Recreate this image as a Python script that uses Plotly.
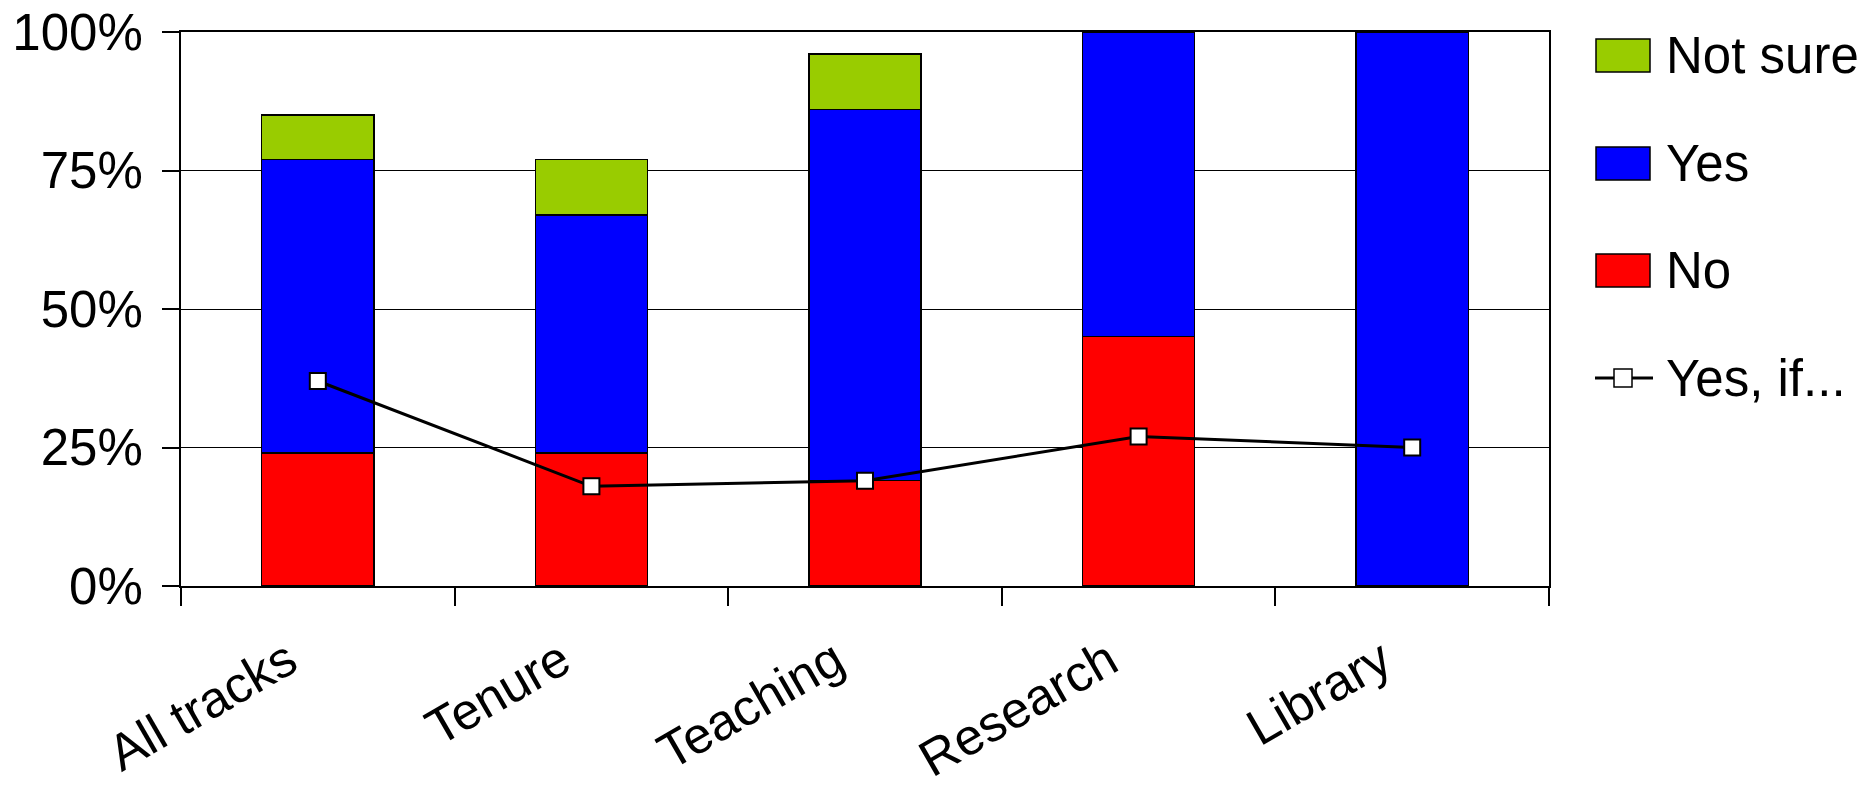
import plotly.graph_objects as go

# Survey responses by track (percent of respondents)
tracks = ["All tracks", "Tenure", "Teaching", "Research", "Library"]
no_pct = [24, 24, 19, 45, 0]
yes_pct = [53, 43, 67, 55, 100]
not_sure_pct = [8, 10, 10, 0, 0]
yes_if_pct = [37, 18, 19, 27, 25]

y_ticks = [0, 25, 50, 75, 100]
y_tick_labels = ["0%", "25%", "50%", "75%", "100%"]

FONT = "Arial, Liberation Sans, sans-serif"
FS = 51
W, H = 1868, 789
M_L, M_R, M_T, M_B = 181, 319, 32, 203

fig = go.Figure()
bar_line = dict(color="black", width=1.5)
fig.add_trace(go.Bar(x=tracks, y=no_pct, name="No",
                     marker=dict(color="#FF0000", line=bar_line)))
fig.add_trace(go.Bar(x=tracks, y=yes_pct, name="Yes",
                     marker=dict(color="#0000FF", line=bar_line)))
fig.add_trace(go.Bar(x=tracks, y=not_sure_pct, name="Not sure",
                     marker=dict(color="#99CC00", line=bar_line)))
fig.add_trace(go.Scatter(x=tracks, y=yes_if_pct, name="Yes, if...",
                         mode="lines+markers",
                         line=dict(color="black", width=3),
                         marker=dict(symbol="square", size=16, color="white",
                                     line=dict(color="black", width=2))))

# Legend drawn on the right as boxes / line key plus labels
pw = W - M_L - M_R
ph = H - M_T - M_B


def px_x(px):
    return (px - M_L) / pw


def px_y(py):
    return (H - M_B - py) / ph


legend_items = [("Not sure", "#99CC00", 55.5),
                ("Yes", "#0000FF", 163.5),
                ("No", "#FF0000", 270.5)]
shapes = []
annotations = []
for label, color, cy in legend_items:
    shapes.append(dict(type="rect", xref="paper", yref="paper",
                       x0=px_x(1596), x1=px_x(1650),
                       y0=px_y(cy + 16.5), y1=px_y(cy - 16.5),
                       fillcolor=color, line=dict(color="black", width=1.5)))
    annotations.append(dict(text=label, xref="paper", yref="paper",
                            x=px_x(1664), y=px_y(cy), xanchor="left",
                            yanchor="middle", showarrow=False,
                            font=dict(family=FONT, size=FS, color="black")))
cy = 378
shapes.append(dict(type="line", xref="paper", yref="paper",
                   x0=px_x(1595), x1=px_x(1653), y0=px_y(cy), y1=px_y(cy),
                   line=dict(color="black", width=3)))
shapes.append(dict(type="rect", xref="paper", yref="paper",
                   x0=px_x(1614), x1=px_x(1632),
                   y0=px_y(cy + 9), y1=px_y(cy - 9),
                   fillcolor="white", line=dict(color="black", width=1.5)))
annotations.append(dict(text="Yes, if...", xref="paper", yref="paper",
                        x=px_x(1664), y=px_y(cy), xanchor="left",
                        yanchor="middle", showarrow=False,
                        font=dict(family=FONT, size=FS, color="black")))

fig.update_layout(
    width=W, height=H,
    margin=dict(l=M_L, r=M_R, t=M_T, b=M_B, pad=0, autoexpand=False),
    barmode="stack", bargap=0.59,
    showlegend=False,
    plot_bgcolor="white", paper_bgcolor="white",
    font=dict(family=FONT, size=FS, color="black"),
    shapes=shapes, annotations=annotations,
    xaxis=dict(type="category", tickson="boundaries", ticks="outside",
               ticklen=18, tickwidth=1.5, tickcolor="black",
               tickangle=-30, showgrid=False, automargin=False,
               ticklabelstandoff=23, ticklabelshift=-30,
               showline=True, linecolor="black", linewidth=2, mirror=True,
               tickfont=dict(family=FONT, size=FS, color="black")),
    yaxis=dict(range=[0, 100], tickvals=y_ticks, ticktext=y_tick_labels,
               ticks="outside", ticklen=17, tickwidth=1.5, tickcolor="black",
               showgrid=True, gridcolor="black", gridwidth=1.4,
               automargin=False, ticklabelstandoff=9,
               showline=True, linecolor="black", linewidth=2, mirror=True,
               zeroline=False,
               tickfont=dict(family=FONT, size=FS, color="black")),
)

fig.write_html("out.html")
